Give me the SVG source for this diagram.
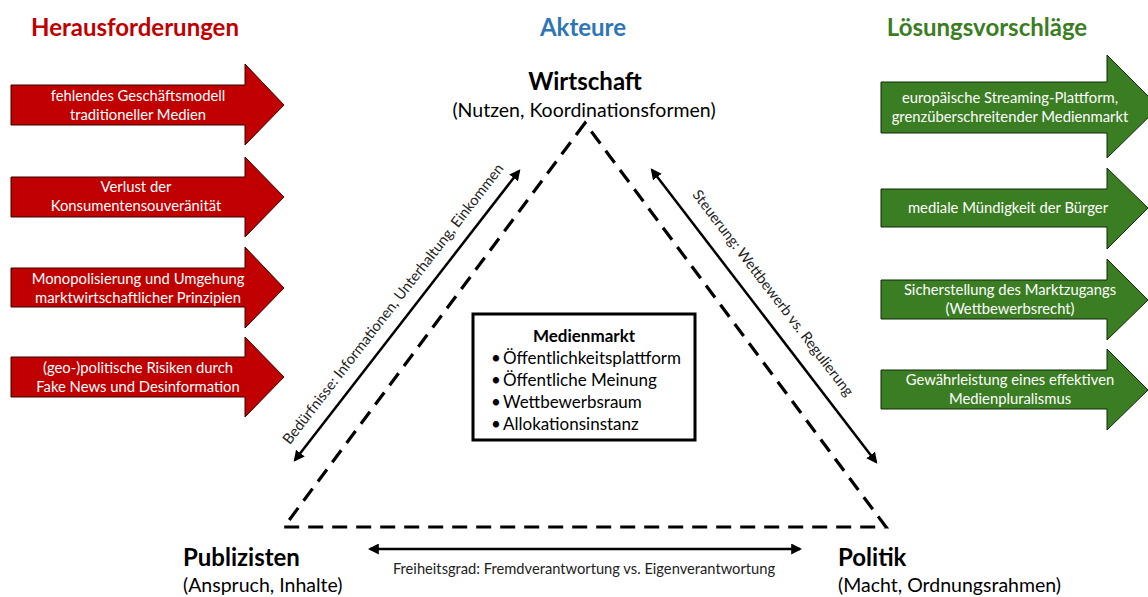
<svg xmlns="http://www.w3.org/2000/svg" width="1148" height="597" viewBox="0 0 1148 597">
<defs>
<style>
text{font-family:Lato,"Open Sans","Liberation Sans",sans-serif;}
.h{font-size:24px;font-weight:bold;text-anchor:middle;}
.red{fill:#C00000;stroke:#3a0000;stroke-width:1;}
.grn{fill:#3B7D23;stroke:#102a08;stroke-width:1;}
.at{fill:#fff;font-size:14.8px;text-anchor:middle;}
.node{font-size:24px;font-weight:bold;fill:#000;}
.sub{font-size:19.5px;fill:#000;}
.lbl{font-size:14.7px;fill:#222;text-anchor:middle;}
.dash{fill:none;stroke:#000;stroke-width:3.2;stroke-dasharray:15 9;}
.conn{stroke:#000;stroke-width:2.5;fill:none;marker-start:url(#ah);marker-end:url(#ah);}
.box{font-size:17px;fill:#000;}
</style>
<marker id="ah" viewBox="0 0 10 10" refX="8" refY="5" markerWidth="4.4" markerHeight="4.4" orient="auto-start-reverse" markerUnits="strokeWidth">
<path d="M0,0 L10,5 L0,10 z" fill="#000"/>
</marker>
</defs>
<rect width="1148" height="597" fill="#fff"/>

<text class="h" x="135" y="36" fill="#C00000">Herausforderungen</text>
<text class="h" x="583" y="36" fill="#2E75B6">Akteure</text>
<text class="h" x="987" y="36" fill="#3B7D23">Lösungsvorschläge</text>

<g id="challenges">
<g id="c1"><path class="red" d="M11,85 H245 V64 L284,105 L245,145 V125 H11 Z"/>
<text class="at" x="138" y="101">fehlendes Geschäftsmodell</text><text class="at" x="138" y="120">traditioneller Medien</text></g>
<g id="c2"><path class="red" d="M11,177 H245 V157 L284,197 L245,237 V217 H11 Z"/>
<text class="at" x="136" y="192">Verlust der</text><text class="at" x="136" y="211">Konsumentensouveränität</text></g>
<g id="c3"><path class="red" d="M11,268 H245 V247 L284,288 L245,328 V307 H11 Z"/>
<text class="at" x="138" y="284">Monopolisierung und Umgehung</text><text class="at" x="138" y="303">marktwirtschaftlicher Prinzipien</text></g>
<g id="c4"><path class="red" d="M11,357 H245 V337 L284,377 L245,417 V397 H11 Z"/>
<text class="at" x="138" y="373">(geo-)politische Risiken durch</text><text class="at" x="138" y="392">Fake News und Desinformation</text></g>
</g>

<g id="solutions">
<g id="s1"><path class="grn" d="M881,82 H1107 V55 L1159,107 L1107,158 V133 H881 Z"/>
<text class="at" x="1010" y="103">europäische Streaming-Plattform,</text><text class="at" x="1010" y="122">grenzüberschreitender Medienmarkt</text></g>
<g id="s2"><path class="grn" d="M881,189 H1107 V168 L1148,208 L1107,249 V227 H881 Z"/>
<text class="at" x="1008" y="213">mediale Mündigkeit der Bürger</text></g>
<g id="s3"><path class="grn" d="M881,280 H1107 V259 L1148,300 L1107,340 V319 H881 Z"/>
<text class="at" x="1010" y="295">Sicherstellung des Marktzugangs</text><text class="at" x="1010" y="314">(Wettbewerbsrecht)</text></g>
<g id="s4"><path class="grn" d="M881,370 H1107 V349 L1148,390 L1107,430 V409 H881 Z"/>
<text class="at" x="1010" y="385">Gewährleistung eines effektiven</text><text class="at" x="1010" y="404">Medienpluralismus</text></g>
</g>

<g id="connectors">
<path class="dash" d="M585,123 L284,527 L886,527 Z"/>
<line class="conn" x1="295" y1="460" x2="519" y2="171"/>
<line class="conn" x1="652" y1="170" x2="876" y2="462"/>
<line class="conn" x1="370" y1="549" x2="800" y2="549"/>
<text class="lbl" transform="translate(397,307) rotate(-52.2)">Bedürfnisse: Informationen, Unterhaltung, Einkommen</text>
<text class="lbl" transform="translate(769,296) rotate(52.6)">Steuerung: Wettbewerb vs. Regulierung</text>
<text class="lbl" x="584" y="574">Freiheitsgrad: Fremdverantwortung vs. Eigenverantwortung</text>
</g>

<g id="wirtschaft">
<text class="node" x="585" y="90" text-anchor="middle">Wirtschaft</text>
<text class="sub" x="584" y="117" text-anchor="middle">(Nutzen, Koordinationsformen)</text>
</g>
<g id="publizisten">
<text class="node" x="183" y="566">Publizisten</text>
<text class="sub" x="183" y="592">(Anspruch, Inhalte)</text>
</g>
<g id="politik">
<text class="node" x="838" y="566">Politik</text>
<text class="sub" x="838" y="592">(Macht, Ordnungsrahmen)</text>
</g>

<g id="medienmarkt">
<rect x="473" y="314" width="222" height="126" fill="#fff" stroke="#000" stroke-width="3"/>
<text class="box" x="584" y="342" text-anchor="middle" font-weight="bold" font-size="20">Medienmarkt</text>
<text class="box" x="491" y="364">•</text><text class="box" x="503" y="364">Öffentlichkeitsplattform</text>
<text class="box" x="491" y="386">•</text><text class="box" x="503" y="386">Öffentliche Meinung</text>
<text class="box" x="491" y="408">•</text><text class="box" x="503" y="408">Wettbewerbsraum</text>
<text class="box" x="491" y="430">•</text><text class="box" x="503" y="430">Allokationsinstanz</text>
</g>
</svg>
